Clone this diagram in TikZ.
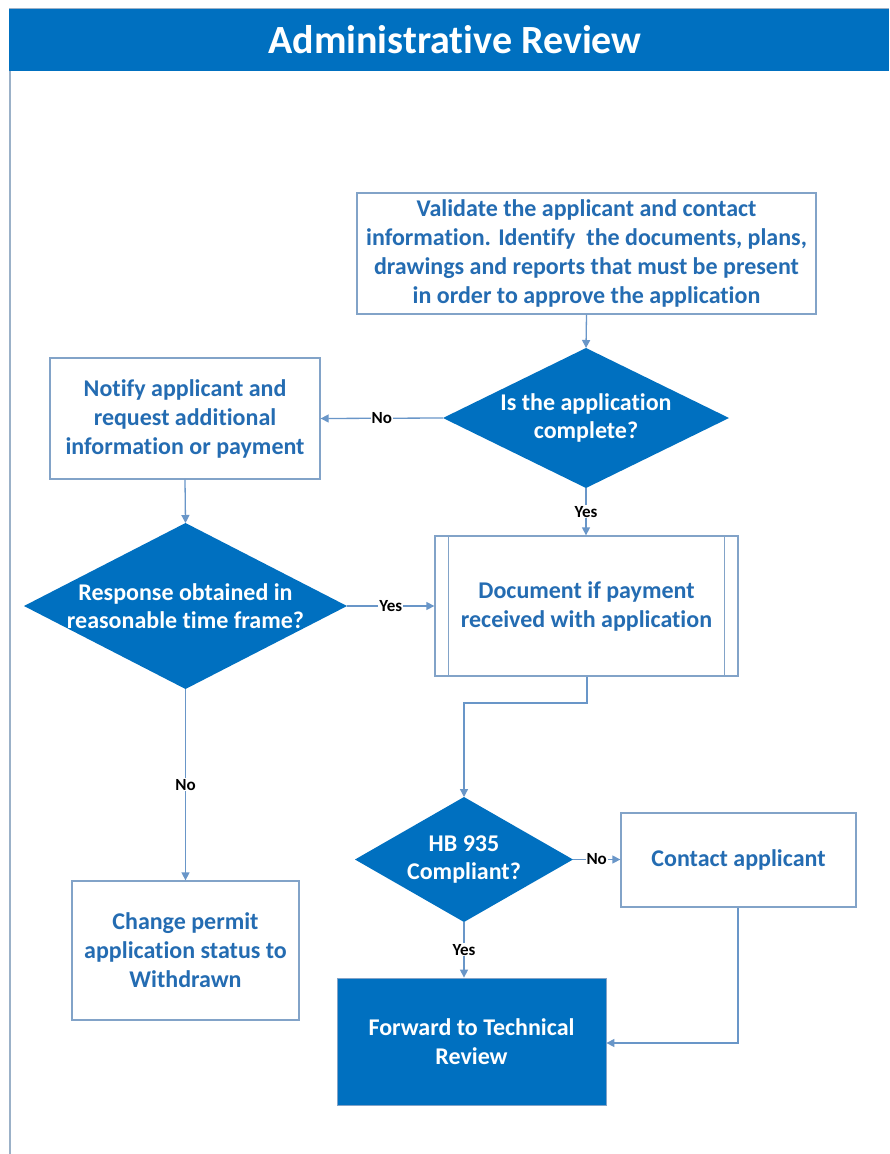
\documentclass[tikz,border=0pt]{standalone}
\usepackage{fontspec}
\setmainfont{Carlito}[Ligatures={NoCommon,NoContextual},RawFeature={-calt;-liga;-clig}]
\usetikzlibrary{arrows.meta,shapes.geometric}
\definecolor{barblue}{RGB}{0,112,192}
\definecolor{textblue}{RGB}{36,108,178}
\definecolor{edgeblue}{RGB}{130,163,200}
\definecolor{linkblue}{RGB}{105,150,200}
\definecolor{frameline}{RGB}{155,177,200}
\tikzset{
  procbox/.style={draw=edgeblue, line width=1.3pt, fill=white, text=textblue,
    font=\bfseries\fontsize{24}{29}\selectfont, align=center, inner sep=0pt},
  endbox/.style={draw=edgeblue, line width=0.8pt, fill=barblue, text=white,
    font=\bfseries\fontsize{24}{29}\selectfont, align=center, inner sep=0pt},
  decision/.style={diamond, fill=barblue, draw=none, inner sep=0pt, outer sep=0pt},
  dtext/.style={text=white, font=\bfseries\fontsize{24}{28}\selectfont, align=center, inner sep=0pt},
  link/.style={draw=linkblue, line width=1.3pt, -{Triangle[length=8pt,width=8pt]}},
  tag/.style={fill=white, text=black, font=\bfseries\fontsize{17}{19}\selectfont, inner sep=1pt}
}
\begin{document}
\begin{tikzpicture}[x=1pt,y=-1pt]
  \useasboundingbox (0,0) rectangle (889,1154);
  \fill[white] (0,0) rectangle (889,1154);

  % page frame and title bar
  \draw[frameline, line width=1pt] (9,8.5) -- (889,8.5);
  \draw[frameline, line width=2pt] (9.5,71) -- (9.5,1154);
  \fill[barblue] (9,9) rectangle (889,71);
  \node[text=white, font=\bfseries\fontsize{40}{44}\selectfont] (title) at (455,40) {Administrative Review};

  % process steps
  \node[procbox, minimum width=459pt, minimum height=121pt] (validate) at (586.5,253.5)
    {Validate the applicant and contact\\information. Identify~ the documents, plans,\\drawings and reports that must be present\\in order to approve the application};
  \node[procbox, minimum width=270pt, minimum height=121pt] (notify) at (185,418.5)
    {Notify applicant and\\request additional\\information or payment};
  \node[procbox, minimum width=303pt, minimum height=140pt] (record) at (586.5,606)
    {Document if payment\\received with application};
  \draw[edgeblue, line width=1.3pt] ([xshift=14pt]record.north west) -- ([xshift=14pt]record.south west);
  \draw[edgeblue, line width=1.3pt] ([xshift=-14pt]record.north east) -- ([xshift=-14pt]record.south east);
  \node[procbox, minimum width=235pt, minimum height=94pt] (contact) at (738.5,860)
    {Contact applicant};
  \node[procbox, minimum width=227pt, minimum height=139pt] (withdraw) at (185.5,950.5)
    {Change permit\\application status to\\Withdrawn};
  \node[endbox, minimum width=269pt, minimum height=127pt] (forward) at (471.5,1041.5)
    {Forward to Technical\\Review};

  % decisions
  \node[decision, minimum width=286pt, minimum height=140pt] (complete) at (586,418) {};
  \node[dtext] (completetext) at (complete) {Is the application\\complete?};
  \node[decision, minimum width=323pt, minimum height=166pt] (timely) at (185.5,606) {};
  \node[dtext] (timelytext) at (timely) {Response obtained in\\reasonable time frame?};
  \node[decision, minimum width=218pt, minimum height=125pt] (hb) at (464,859.5) {};
  \node[dtext] (hbtext) at (hb) {HB 935\\Compliant?};

  % connectors
  \draw[link] (validate.south) -- (complete.north);
  \draw[link] (complete.west) -- node[tag] (nofirst) {No} (notify.east);
  \draw[link] (complete.south) -- node[tag] (yesfirst) {Yes} (complete.south |- record.north);
  \draw[link] (notify.south) -- (timely.north);
  \draw[link] (timely.east) -- node[tag] (yessecond) {Yes} (timely.east -| record.west);
  \draw[link] (timely.south) -- node[tag] (nosecond) {No} (timely.south |- withdraw.north);
  \coordinate (bendA) at (587,703);
  \coordinate (bendB) at (464,703);
  \draw[link] (record.south -| bendA) -- (bendA) -- (bendB) -- (hb.north);
  \draw[link] (hb.east) -- node[tag] (nothird) {No} (hb.east -| contact.west);
  \draw[link] (hb.south) -- node[tag] (yesthird) {Yes} (hb.south |- forward.north);
  \coordinate (bendC) at (738,1043);
  \draw[link] (contact.south -| bendC) -- (bendC) -- (bendC -| forward.east);
\end{tikzpicture}
\end{document}
